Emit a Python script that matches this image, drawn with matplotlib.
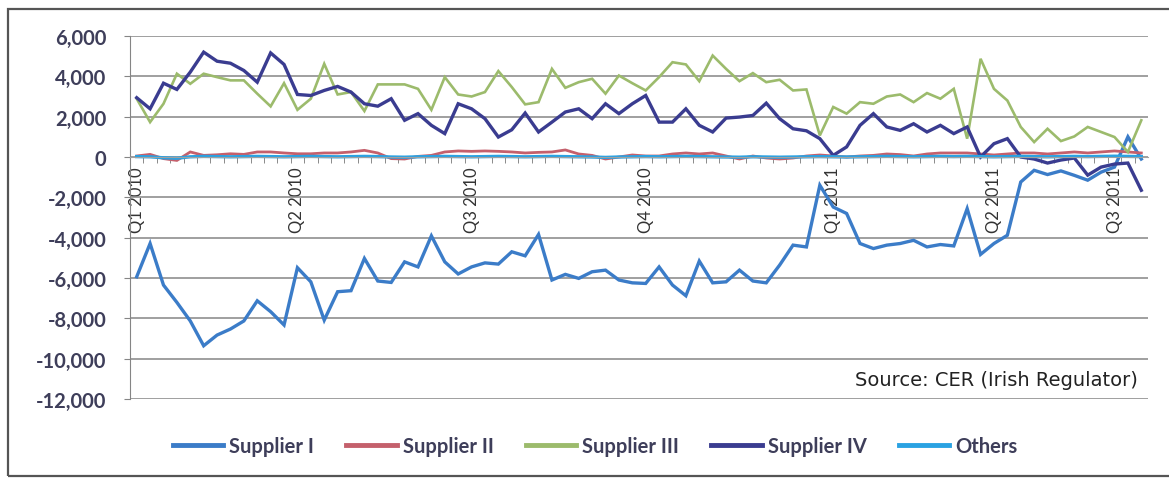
import matplotlib.pyplot as plt
from matplotlib.patches import Rectangle
from matplotlib.ticker import FixedLocator, FuncFormatter

# weekly net customer movements, Q1 2010 - Q3 2011
supplier_1 = [-5940, -4290, -6350, -7210, -8130, -9360, -8830, -8530, -8130, -7130,
              -7670, -8330, -5490, -6190, -8090, -6680, -6630, -5030, -6150, -6220,
              -5200, -5450, -3910, -5200, -5800, -5450, -5250, -5310, -4700, -4900,
              -3840, -6100, -5820, -6020, -5690, -5610, -6100, -6240, -6270, -5450,
              -6350, -6880, -5160, -6240, -6190, -5610, -6150, -6240, -5360, -4370,
              -4460, -1400, -2480, -2800, -4290, -4540, -4370, -4290, -4130, -4460,
              -4340, -4410, -2560, -4830, -4290, -3880, -1240, -660, -870, -690,
              -910, -1150, -750, -500, 1000, -100]
supplier_2 = [50, 130, -80, -170, 250, 80, 110, 160, 130, 250,
              250, 200, 160, 160, 200, 200, 250, 330, 200, -80,
              -100, 30, 80, 250, 300, 280, 300, 280, 250, 200,
              230, 250, 350, 150, 80, -100, 0, 100, 50, 50,
              150, 200, 150, 200, 50, -100, 50, -50, -100, -50,
              50, 100, 50, 0, 50, 80, 150, 120, 50, 150,
              200, 200, 200, 150, 100, 150, 200, 200, 150, 200,
              250, 200, 250, 300, 250, 200]
supplier_3 = [2890, 1730, 2640, 4130, 3630, 4130, 3960, 3800, 3800, 3140,
              2510, 3660, 2340, 2890, 4620, 3100, 3220, 2280, 3600, 3600,
              3600, 3380, 2340, 3960, 3100, 3000, 3220, 4260, 3470, 2610,
              2720, 4370, 3430, 3710, 3880, 3140, 4040, 3660, 3300, 3960,
              4700, 4590, 3760, 5030, 4370, 3760, 4160, 3710, 3830, 3300,
              3350, 1070, 2480, 2150, 2720, 2640, 3000, 3100, 2720, 3170,
              2890, 3380, 910, 4870, 3380, 2800, 1490, 740, 1400, 790,
              1020, 1490, 1240, 990, 250, 1820]
supplier_4 = [2940, 2390, 3660, 3350, 4210, 5200, 4750, 4650, 4290, 3710,
              5160, 4590, 3100, 3050, 3300, 3500, 3220, 2640, 2520, 2890,
              1820, 2150, 1570, 1160, 2640, 2390, 1900, 990, 1350, 2180,
              1240, 1730, 2230, 2390, 1900, 2640, 2150, 2640, 3050, 1730,
              1730, 2390, 1570, 1240, 1930, 1980, 2060, 2670, 1900, 1400,
              1300, 910, 80, 500, 1570, 2150, 1490, 1320, 1650, 1240,
              1570, 1160, 1490, 0, 660, 910, 0, -100, -300, -150,
              -50, -900, -500, -350, -300, -1650]
others = [20, 10, -40, -60, 10, 30, 20, 10, 20, 30,
          20, 10, 20, 30, 20, 10, 20, 30, 20, 0,
          -10, 10, 20, 30, 20, 10, 20, 30, 20, 10,
          20, 30, 20, 10, 0, -20, 0, 10, 20, 10,
          20, 30, 20, 10, 0, -10, 10, 0, -10, 0,
          10, 20, 10, 0, 10, 20, 30, 20, 10, 20,
          30, 20, 30, 20, 10, 20, 30, 20, 10, 20,
          30, 20, 30, 40, 30, 20]

quarter_pos = [0, 12, 25, 38, 52, 64, 73]
quarter_labels = ["Q1 2010", "Q2 2010", "Q3 2010", "Q4 2010", "Q1 2011", "Q2 2011", "Q3 2011"]
y_ticks = [6000, 4000, 2000, 0, -2000, -4000, -6000, -8000, -10000, -12000]

weeks = list(range(len(supplier_1)))
text_col = "#3e3e5a"
grid_col = "#858585"

fig = plt.figure(figsize=(11.69, 4.81), dpi=100)
ax = fig.add_axes([130 / 1169, 1 - 400 / 481, 1018 / 1169, 363 / 481])

series = [
    ("Supplier I", supplier_1, "#3b7cc8", 2.4),
    ("Supplier II", supplier_2, "#c4606c", 2.0),
    ("Supplier III", supplier_3, "#9cbb6c", 1.9),
    ("Supplier IV", supplier_4, "#3a3c90", 2.4),
    ("Others", others, "#2aa2e2", 2.4),
]
for name, vals, col, lw in series:
    ax.plot(weeks, vals, color=col, lw=lw, label=name, solid_joinstyle="miter")

ax.set_xlim(-0.5, len(weeks) - 0.5)
ax.set_ylim(-12000, 6000)
ax.set_yticks(y_ticks)
ax.yaxis.set_major_formatter(FuncFormatter(lambda v, p: f"{int(v):,}"))
ax.grid(axis="y", color=grid_col, lw=1.1)
ax.set_axisbelow(True)

# category axis sits on the zero line, ticks between weeks
ax.spines["bottom"].set_position(("data", 0))
ax.spines["bottom"].set_color("#a0a0a0")
ax.spines["left"].set_color(grid_col)
ax.spines["top"].set_visible(False)
ax.spines["right"].set_visible(False)
ax.set_xticks(quarter_pos)
ax.set_xticklabels(quarter_labels, rotation=90, va="top", ha="center",
                   fontsize=12, family="Lato", color="#333333")
ax.xaxis.set_minor_locator(FixedLocator([i + 0.5 for i in weeks[:-1]]))
ax.tick_params(axis="x", which="major", length=0, pad=7)
ax.tick_params(axis="x", which="minor", length=4, color="#777777", direction="out")
ax.tick_params(axis="y", length=4, color=grid_col, pad=13)
for lab in ax.get_yticklabels():
    lab.set_fontfamily("Lato")
    lab.set_fontweight("bold")
    lab.set_fontsize(14.5)
    lab.set_color(text_col)

ax.text(0.99, 0.055, "Source: CER (Irish Regulator)", transform=ax.transAxes,
        ha="right", va="center", fontsize=14, family="DejaVu Sans", color="#222222")

leg = fig.legend(loc="center", bbox_to_anchor=(0.509, 1 - 447 / 481), ncol=5,
                 frameon=False, handlelength=2.5, handletextpad=0.3, columnspacing=1.6,
                 prop={"family": "Lato", "weight": "bold", "size": 14.5})
for txt in leg.get_texts():
    txt.set_color(text_col)
for h in leg.get_lines():
    h.set_linewidth(3.5)

# outer chart frame
fig.patches.append(Rectangle((8 / 1169, 1 - 477 / 481), 1.0, 467 / 481,
                             transform=fig.transFigure, fill=False,
                             edgecolor="#555555", lw=1.6))

fig.savefig("out.png", dpi=100)
